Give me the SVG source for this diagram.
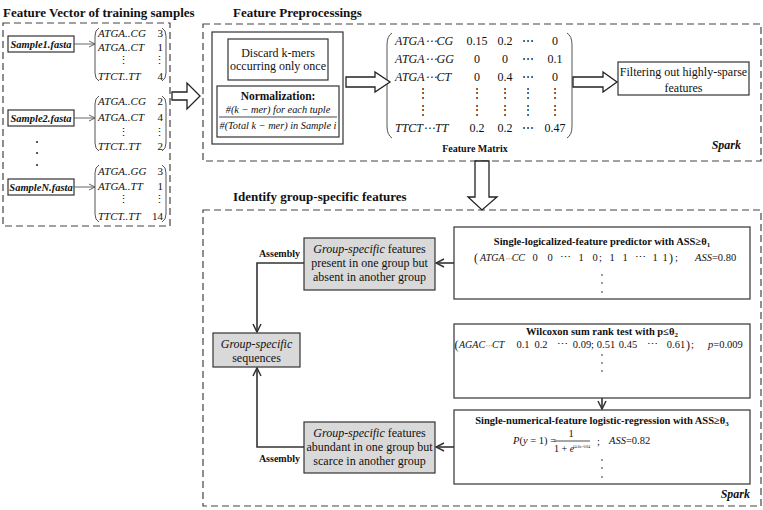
<svg xmlns="http://www.w3.org/2000/svg" width="763" height="510" viewBox="0 0 763 510">
<style>
text{font-family:"Liberation Serif","Times New Roman",serif;fill:#111}
.ttl{font-weight:bold;font-size:13px}
.bd{font-size:12px}
.sm{font-size:11px}
.it{font-style:italic}
.bf{font-weight:bold}
.mid{text-anchor:middle}
.end{text-anchor:end}
.dash{fill:none;stroke:#444;stroke-width:1.2;stroke-dasharray:7 4}
.box{fill:#fff;stroke:#333;stroke-width:1.2}
.grey{fill:#d9d9d9;stroke:#333;stroke-width:1.2}
.hol{fill:#fff;stroke:#222;stroke-width:1.3;stroke-linejoin:miter}
.par{fill:none;stroke:#555;stroke-width:1}
.thin{fill:none;stroke:#555;stroke-width:0.9}
.con{fill:none;stroke:#333;stroke-width:1.6}
.dot{fill:#222}
</style>
<defs>
<marker id="vs" markerWidth="8" markerHeight="8" refX="7" refY="4" orient="auto" markerUnits="userSpaceOnUse">
<path d="M1,1 L7,4 L1,7" fill="none" stroke="#555" stroke-width="0.9"/>
</marker>
<marker id="vb" markerWidth="10" markerHeight="10" refX="9" refY="5" orient="auto" markerUnits="userSpaceOnUse">
<path d="M1,1 L9,5 L1,9" fill="none" stroke="#333" stroke-width="1.5"/>
</marker>
</defs>
<rect width="763" height="510" fill="#fff"/>

<!-- Titles -->
<text class="ttl" x="3" y="17">Feature Vector of training samples</text>
<text class="ttl" x="233" y="17">Feature Preprocessings</text>
<text class="ttl" x="233" y="201">Identify group-specific features</text>

<!-- Panels -->
<g id="panel-samples">
<rect class="dash" x="3" y="23" width="167" height="203"/>
</g>
<g id="panel-preprocessing">
<rect class="dash" x="203" y="24" width="558" height="137"/>
<text class="bf it" x="741" y="149" font-size="12" text-anchor="end">Spark</text>
</g>
<g id="panel-identify">
<rect class="dash" x="203" y="210" width="558" height="296"/>
<text class="bf it" x="750" y="498" font-size="12" text-anchor="end">Spark</text>
</g>

<!-- Samples -->
<g id="sample1">
<rect class="box" x="8" y="36" width="66" height="16"/>
<text class="bf it mid" x="41" y="48" font-size="10.5">Sample1.fasta</text>
</g>
<g id="vector1">
<path class="par" d="M99,28 Q95,30 95,36 L95,73 Q95,79 99,81"/>
<path class="par" d="M162,28 Q166,30 166,36 L166,73 Q166,79 162,81"/>
<text class="it sm" x="98" y="37">ATGA..CG</text><text class="sm end" x="163" y="37">3</text>
<text class="it sm" x="98" y="51">ATGA..CT</text><text class="sm end" x="163" y="51">1</text>
<text class="sm mid" x="123" y="64">⋮</text><text class="sm mid" x="159" y="64">⋮</text>
<text class="it sm" x="98" y="80">TTCT..TT</text><text class="sm end" x="163" y="80">4</text>
</g>
<g id="sample2">
<rect class="box" x="8" y="110" width="66" height="16"/>
<text class="bf it mid" x="41" y="122" font-size="10.5">Sample2.fasta</text>
</g>
<g id="vector2">
<path class="par" d="M99,96 Q95,98 95,104 L95,143 Q95,149 99,151"/>
<path class="par" d="M162,96 Q166,98 166,104 L166,143 Q166,149 162,151"/>
<text class="it sm" x="98" y="105">ATGA..CG</text><text class="sm end" x="163" y="105">2</text>
<text class="it sm" x="98" y="121">ATGA..CT</text><text class="sm end" x="163" y="121">4</text>
<text class="sm mid" x="123" y="136">⋮</text><text class="sm mid" x="159" y="136">⋮</text>
<text class="it sm" x="98" y="150">TTCT..TT</text><text class="sm end" x="163" y="150">2</text>
</g>
<g id="sample-dots">
<circle class="dot" cx="37" cy="142" r="1"/><circle class="dot" cx="37" cy="153" r="1"/><circle class="dot" cx="37" cy="165" r="1"/>
</g>
<g id="sampleN">
<rect class="box" x="8" y="179" width="66" height="16"/>
<text class="bf it mid" x="41" y="191" font-size="10.5">SampleN.fasta</text>
</g>
<g id="vectorN">
<path class="par" d="M99,165 Q95,167 95,173 L95,214 Q95,220 99,222"/>
<path class="par" d="M162,165 Q166,167 166,173 L166,214 Q166,220 162,222"/>
<text class="it sm" x="98" y="175">ATGA..GG</text><text class="sm end" x="163" y="175">3</text>
<text class="it sm" x="98" y="190">ATGA..TT</text><text class="sm end" x="163" y="190">1</text>
<text class="sm mid" x="123" y="203">⋮</text><text class="sm mid" x="159" y="203">⋮</text>
<text class="it sm" x="98" y="220">TTCT..TT</text><text class="sm end" x="163" y="220">14</text>
</g>

<!-- Preprocessing -->
<g id="preprocess-steps">
<rect class="box" x="212" y="32" width="131" height="112"/>
</g>
<g id="discard">
<rect class="box" x="228" y="39" width="100" height="41"/>
<text class="bd mid" x="278" y="57">Discard k-mers</text>
<text class="bd mid" x="278" y="70">occurring only once</text>
</g>
<g id="normalization">
<rect class="box" x="217" y="86" width="122" height="51"/>
<text class="bf mid" x="278" y="100" font-size="11.5">Normalization:</text>
<text class="it mid" x="278" y="113" font-size="10.3">#(k − mer)  for each tuple</text>
<line x1="219" y1="117" x2="337" y2="117" stroke="#333" stroke-width="0.9"/>
<text class="it mid" x="278" y="129" font-size="10.3">#(Total  k − mer) in Sample i</text>
</g>
<g id="feature-matrix">
<path class="par" d="M392,33 Q387,36 387,45 L387,126 Q387,135 392,138"/>
<path class="par" d="M567,33 Q572,36 572,45 L572,126 Q572,135 567,138"/>
<text class="it bd" x="395" y="45">ATGA⋯CG</text>
<text class="bd mid" x="477" y="45">0.15</text><text class="bd mid" x="505" y="45">0.2</text><text class="bd mid" x="528" y="45">⋯</text><text class="bd mid" x="555" y="45">0</text>
<text class="it bd" x="395" y="63">ATGA⋯GG</text>
<text class="bd mid" x="477" y="63">0</text><text class="bd mid" x="505" y="63">0</text><text class="bd mid" x="528" y="63">⋯</text><text class="bd mid" x="555" y="63">0.1</text>
<text class="it bd" x="395" y="81">ATGA⋯CT</text>
<text class="bd mid" x="477" y="81">0</text><text class="bd mid" x="505" y="81">0.4</text><text class="bd mid" x="528" y="81">⋯</text><text class="bd mid" x="555" y="81">0</text>
<text class="bd mid" x="423" y="97">⋮</text><text class="bd mid" x="477" y="97">⋮</text><text class="bd mid" x="505" y="97">⋮</text><text class="bd mid" x="528" y="97">⋮</text><text class="bd mid" x="555" y="97">⋮</text>
<text class="bd mid" x="423" y="114">⋮</text><text class="bd mid" x="477" y="114">⋮</text><text class="bd mid" x="505" y="114">⋮</text><text class="bd mid" x="528" y="114">⋮</text><text class="bd mid" x="555" y="114">⋮</text>
<text class="it bd" x="395" y="132">TTCT⋯TT</text>
<text class="bd mid" x="477" y="132">0.2</text><text class="bd mid" x="505" y="132">0.2</text><text class="bd mid" x="528" y="132">⋯</text><text class="bd mid" x="555" y="132">0.47</text>
<text class="bf mid" x="475" y="152" font-size="10">Feature Matrix</text>
</g>
<g id="filtering">
<rect class="box" x="618" y="62" width="131" height="33"/>
<text class="bd mid" x="683.5" y="76">Filtering out highly-sparse</text>
<text class="bd mid" x="683.5" y="92">features</text>
</g>

<!-- Identify -->
<g id="present-absent">
<rect class="grey" x="304" y="238" width="131" height="52"/>
<text class="bd mid" x="369.5" y="253"><tspan class="it">Group-specific</tspan> features</text>
<text class="bd mid" x="369.5" y="267">present in one group but</text>
<text class="bd mid" x="369.5" y="281">absent in another group</text>
</g>
<g id="group-sequences">
<rect class="grey" x="213" y="333" width="87" height="34"/>
<text class="bd mid it" x="256.5" y="348">Group-specific</text>
<text class="bd mid" x="256.5" y="362">sequences</text>
</g>
<g id="abundant-scarce">
<rect class="grey" x="304" y="422" width="131" height="51"/>
<text class="bd mid" x="369.5" y="437"><tspan class="it">Group-specific</tspan> features</text>
<text class="bd mid" x="369.5" y="451">abundant in one group but</text>
<text class="bd mid" x="369.5" y="465">scarce in another group</text>
</g>
<g id="logicalized-predictor">
<rect class="box" x="454" y="227" width="296" height="72"/>
<text class="bf mid" x="602" y="245" font-size="10.5">Single-logicalized-feature predictor with ASS≥θ<tspan font-size="7" dy="2">1</tspan></text>
<g font-size="10.5">
<text x="474" y="262" font-size="12">(</text>
<text class="it" x="480" y="261" font-size="10">ATGA<tspan font-size="7">⋯</tspan>CC</text>
<text class="mid" x="535" y="261">0</text><text class="mid" x="550" y="261">0</text><text class="mid" x="565" y="261">⋯</text><text class="mid" x="581" y="261">1</text><text class="mid" x="595" y="261">0</text><text x="599" y="261">;</text>
<text class="mid" x="612" y="261">1</text><text class="mid" x="625" y="261">1</text><text class="mid" x="640" y="261">⋯</text><text class="mid" x="655" y="261">1</text><text class="mid" x="665" y="261">1</text>
<text x="669" y="262" font-size="12">)</text><text x="675" y="261">;</text>
<text x="695" y="261"><tspan class="it">ASS</tspan>=0.80</text>
</g>
<circle class="dot" cx="602" cy="275" r="0.8"/><circle class="dot" cx="602" cy="283" r="0.8"/><circle class="dot" cx="602" cy="292" r="0.8"/>
</g>
<g id="wilcoxon">
<rect class="box" x="454" y="324" width="296" height="74"/>
<text class="bf mid" x="602" y="335" font-size="10.5">Wilcoxon sum rank test with p≤θ<tspan font-size="7" dy="2">2</tspan></text>
<g font-size="10.5">
<text x="454.5" y="349" font-size="12">(</text>
<text class="it" x="459" y="348" font-size="10">AGAC<tspan font-size="7">⋯</tspan>CT</text>
<text class="mid" x="523" y="348">0.1</text><text class="mid" x="541" y="348">0.2</text><text class="mid" x="562" y="348">⋯</text>
<text class="mid" x="582" y="348">0.09</text><text x="591" y="348">;</text>
<text class="mid" x="606" y="348">0.51</text><text class="mid" x="628" y="348">0.45</text><text class="mid" x="652" y="348">⋯</text>
<text class="mid" x="676" y="348">0.61</text><text x="686" y="349" font-size="12">)</text><text x="691" y="348">;</text>
<text x="708" y="348"><tspan class="it">p</tspan>=0.009</text>
</g>
<circle class="dot" cx="602" cy="355" r="0.8"/><circle class="dot" cx="602" cy="363" r="0.8"/><circle class="dot" cx="602" cy="371" r="0.8"/>
</g>
<g id="logistic-regression">
<rect class="box" x="454" y="410" width="296" height="74"/>
<text class="bf mid" x="602" y="424" font-size="10.5">Single-numerical-feature logistic-regression with ASS≥θ<tspan font-size="7" dy="2">3</tspan></text>
<text x="513" y="444" font-size="10.5"><tspan class="it">P</tspan>(<tspan class="it">y</tspan> = 1) =</text>
<text class="mid" x="571" y="437" font-size="10.5">1</text>
<line x1="554" y1="441" x2="590" y2="441" stroke="#222" stroke-width="0.8"/>
<text x="554" y="452" font-size="10">1 + <tspan class="it">e</tspan></text>
<text x="573" y="448" font-size="5" textLength="17" lengthAdjust="spacingAndGlyphs">14.6x−0.84</text>
<text x="597" y="445" font-size="10.5">;</text>
<text x="609" y="444" font-size="10.5"><tspan class="it">ASS</tspan>=0.82</text>
<circle class="dot" cx="602" cy="460" r="0.8"/><circle class="dot" cx="602" cy="468" r="0.8"/><circle class="dot" cx="602" cy="477" r="0.8"/>
</g>

<!-- Connectors -->
<g id="connectors">
<line class="thin" x1="74" y1="44" x2="95" y2="44" marker-end="url(#vs)"/>
<line class="thin" x1="74" y1="118" x2="95" y2="118" marker-end="url(#vs)"/>
<line class="thin" x1="74" y1="187" x2="95" y2="187" marker-end="url(#vs)"/>
<polygon class="hol" points="172,92 187,92 187,83 200,96 187,109 187,100 172,100"/>
<polygon class="hol" points="346,77 375,77 375,72 390,82 375,92 375,87 346,87"/>
<polygon class="hol" points="573,77 603,77 603,72 617,82 603,92 603,87 573,87"/>
<polygon class="hol" points="475,161 489,161 489,197 497,197 482,210 468,197 475,197"/>
<line class="con" x1="454" y1="263" x2="436" y2="263" marker-end="url(#vb)"/>
<line class="con" x1="454" y1="447" x2="436" y2="447" marker-end="url(#vb)"/>
<line class="con" x1="602" y1="398" x2="602" y2="409" marker-end="url(#vb)"/>
<path class="con" d="M304,263 H257 V332" marker-end="url(#vb)"/>
<path class="con" d="M304,447 H257 V368" marker-end="url(#vb)"/>
<text class="bf end" x="300" y="257" font-size="10">Assembly</text>
<text class="bf end" x="300" y="462" font-size="10">Assembly</text>
</g>
</svg>
